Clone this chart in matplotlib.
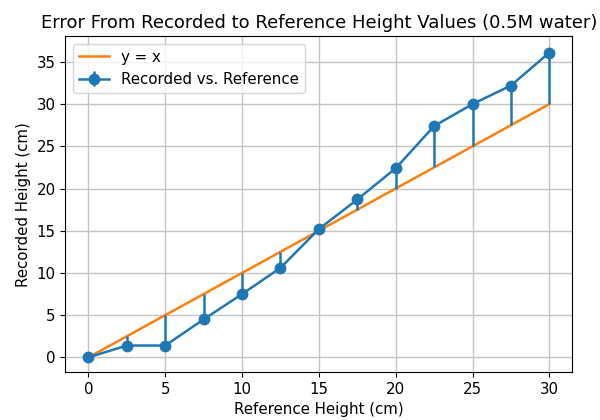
import numpy as np
import matplotlib
matplotlib.use('Agg')
from matplotlib import pyplot as plt

# reference heights (cm) and recorded heights (cm)
reference = [0, 2.5, 5, 7.5, 10, 12.5, 15, 17.5, 20, 22.5, 25, 27.5, 30]
recorded = [0, 1.4, 1.4, 4.5, 7.5, 10.6, 15.2, 18.7, 22.4, 27.4, 30.0, 32.2, 36.1]

ref = np.array(reference)
rec = np.array(recorded)
diff = ref - rec
# bars run from each recorded point to the y = x line
lower = np.where(diff < 0, -diff, 0)
upper = np.where(diff > 0, diff, 0)

plt.rcParams['font.size'] = 10.8

fig = plt.figure(figsize=(6, 4.2), dpi=100)
ax = fig.add_axes([0.109, 0.114, 0.845, 0.80])

ax.plot(ref, ref, color='tab:orange', linewidth=1.8, label='y = x')
ax.errorbar(ref, rec, yerr=[lower, upper], fmt='-o', color='tab:blue',
            linewidth=1.8, elinewidth=1.8, markersize=7.5, capsize=0,
            label='Recorded vs. Reference')

ax.set_xticks([0, 5, 10, 15, 20, 25, 30])
ax.set_yticks([0, 5, 10, 15, 20, 25, 30, 35])
ax.set_xlim(-1.5, 31.5)
ax.set_ylim(-1.75, 38.05)
ax.grid(True, color='#c4c4c4', linewidth=1.0)

ax.set_title('Error From Recorded to Reference Height Values (0.5M water)', fontsize=13)
ax.set_xlabel('Reference Height (cm)')
ax.set_ylabel('Recorded Height (cm)')
ax.legend(loc='upper left')

fig.savefig('out.png', dpi=100)
